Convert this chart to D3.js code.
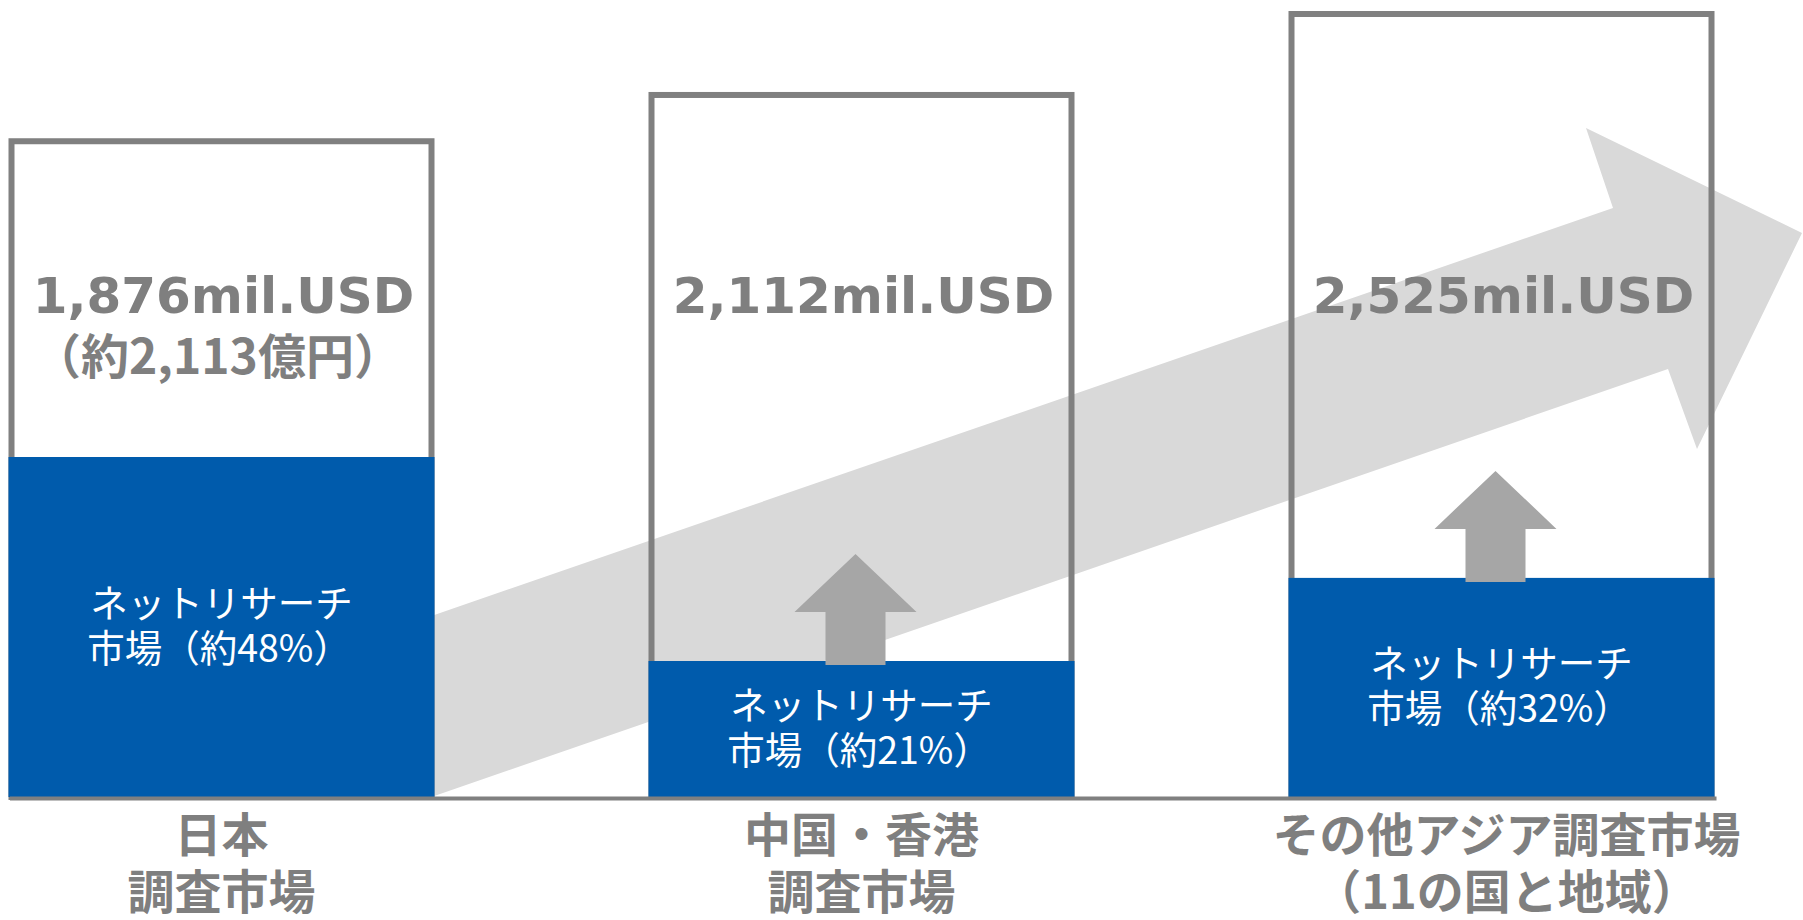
<!DOCTYPE html>
<html>
<head>
<meta charset="utf-8">
<script src="https://cdn.jsdelivr.net/npm/d3@7"></script>
<style>
  body { margin: 0; background: #fff; }
  svg { display: block; }
</style>
</head>
<body>
<div id="chart"></div>
<script>
// 調査市場の規模 (mil.USD) とネットリサーチ比率
var categories = [
    ['日本', '調査市場'],
    ['中国・香港', '調査市場'],
    ['その他アジア調査市場', '（11の国と地域）']
];
var marketUSD = [1876, 2112, 2525];
var valueLabels = ['1,876mil.USD', '2,112mil.USD', '2,525mil.USD'];
var yenLabels = ['（約2,113億円）', '', ''];
var netShare = [48, 21, 32];
var growthMark = [false, true, true];

(function (d3) {
    'use strict';

    var width = 1803,
        height = 920,
        baseY = 797,
        boxW = 426,
        stroke = 6,
        grey = '#808080',
        blue = '#005bac';

    var svg = d3.select('#chart').append('svg')
        .attr('width', width)
        .attr('height', height);

    var idx = d3.range(categories.length);

    var x = d3.scalePoint().domain(idx).range([221.5, 1501.5]);
    // 枠の高さは値に対して線形（ゼロ起点ではない）
    var y = d3.scaleLinear().domain([-1484, 2525]).range([baseY, 11]);
    // ネットリサーチ部分の高さ
    var h = d3.scaleLinear().domain([3, 48]).range([0, 340]);

    function blueTop(i) {
        return baseY - h(netShare[i]);
    }

    /**
     * 背景の大きな矢印（日本 → その他アジア）
     */
    var tx = x(0) + boxW / 2 - 6,
        hx = x(2);
    var bigArrow = [
        [tx, baseY - 180],
        [hx + 111.5, 208],
        [hx + 84.5, 128],
        [hx + 300.5, 233],
        [hx + 195.5, 449],
        [hx + 166.5, 369],
        [tx, baseY + 1]
    ];
    svg.append('polygon')
        .attr('points', bigArrow.map(function (p) { return p.join(','); }).join(' '))
        .attr('fill', '#d9d9d9');

    // 市場全体の枠
    svg.selectAll('rect.box')
        .data(idx)
        .enter()
        .append('rect')
        .attr('class', 'box')
        .attr('x', function (i) { return x(i) - boxW / 2 + stroke / 2; })
        .attr('y', function (i) { return y(marketUSD[i]) + stroke / 2; })
        .attr('width', boxW - stroke)
        .attr('height', function (i) { return baseY - y(marketUSD[i]) - stroke / 2; })
        .attr('fill', 'none')
        .attr('stroke', grey)
        .attr('stroke-width', stroke);

    // ネットリサーチ部分
    svg.selectAll('rect.net')
        .data(idx)
        .enter()
        .append('rect')
        .attr('class', 'net')
        .attr('x', function (i) { return x(i) - boxW / 2; })
        .attr('y', function (i) { return blueTop(i); })
        .attr('width', boxW)
        .attr('height', function (i) { return baseY - blueTop(i); })
        .attr('fill', blue);

    // 成長を示す小さな上向き矢印
    svg.selectAll('path.up')
        .data(idx.filter(function (i) { return growthMark[i]; }))
        .enter()
        .append('path')
        .attr('class', 'up')
        .attr('d', function (i) {
            var cx = x(i) - 6,
                b = blueTop(i) + 4,
                t = b - 111,
                hb = t + 58;
            return 'M' + cx + ',' + t +
                'L' + (cx + 61) + ',' + hb +
                'L' + (cx + 30) + ',' + hb +
                'L' + (cx + 30) + ',' + b +
                'L' + (cx - 30) + ',' + b +
                'L' + (cx - 30) + ',' + hb +
                'L' + (cx - 61) + ',' + hb + 'Z';
        })
        .attr('fill', '#a6a6a6');

    // 基線
    svg.append('line')
        .attr('x1', 10)
        .attr('x2', x(2) + boxW / 2 + 2)
        .attr('y1', baseY + 1.5)
        .attr('y2', baseY + 1.5)
        .attr('stroke', grey)
        .attr('stroke-width', 4);

    // 市場規模ラベル
    svg.selectAll('text.val')
        .data(idx)
        .enter()
        .append('text')
        .attr('class', 'val')
        .attr('x', function (i) { return x(i) + 2; })
        .attr('y', 313)
        .attr('text-anchor', 'middle')
        .attr('font-family', '"DejaVu Sans", Verdana, sans-serif')
        .attr('font-weight', 'bold')
        .attr('font-size', 50)
        .attr('fill', '#7f7f7f')
        .text(function (i) { return valueLabels[i]; });

    svg.selectAll('text.yen')
        .data(idx.filter(function (i) { return yenLabels[i]; }))
        .enter()
        .append('text')
        .attr('class', 'yen')
        .attr('x', function (i) { return x(i) - 4; })
        .attr('y', 374)
        .attr('text-anchor', 'middle')
        .attr('font-family', '"Noto Sans CJK JP", sans-serif')
        .attr('font-weight', 'bold')
        .attr('font-size', 48)
        .attr('fill', '#7f7f7f')
        .text(function (i) { return yenLabels[i]; });

    // ネットリサーチ比率ラベル（左揃え、ブロックは中央）
    idx.forEach(function (i) {
        var mid = (blueTop(i) + baseY) / 2;
        var g = svg.append('g')
            .attr('font-family', '"Noto Sans CJK JP", sans-serif')
            .attr('font-size', 37.5)
            .attr('fill', '#fff');
        var l1 = g.append('text')
            .attr('y', mid - 10)
            .text('ネットリサーチ');
        var l2 = g.append('text')
            .attr('y', mid + 35)
            .text('市場（約' + netShare[i] + '%）');
        var w = l1.node().getComputedTextLength();
        l1.attr('x', x(i) - w / 2);
        l2.attr('x', x(i) - w / 2 - 3);
    });

    // カテゴリラベル
    svg.selectAll('text.cat')
        .data(idx)
        .enter()
        .append('text')
        .attr('class', 'cat')
        .attr('text-anchor', 'middle')
        .attr('font-family', '"Noto Sans CJK JP", sans-serif')
        .attr('font-weight', 'bold')
        .attr('font-size', 47)
        .attr('fill', '#7f7f7f')
        .each(function (i) {
            var t = d3.select(this);
            categories[i].forEach(function (line, k) {
                t.append('tspan')
                    .attr('x', x(i) + (i === 2 ? 5 : 0))
                    .attr('y', 852 + k * 57)
                    .text(line);
            });
        });

})(d3);
</script>
</body>
</html>
